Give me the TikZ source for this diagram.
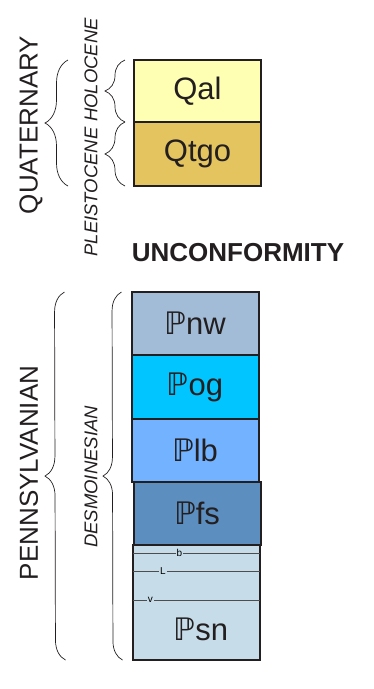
\documentclass[tikz,border=0pt]{standalone}
\usepackage{fontspec}
\setmainfont{Liberation Sans}
\newfontfamily\symfont{DejaVu Sans}
\usepackage{tikz}
\usetikzlibrary{calc,positioning,decorations.pathreplacing}
\definecolor{qalcol}{HTML}{FFFFB3}
\definecolor{qtgocol}{HTML}{E4C45E}
\definecolor{pnwcol}{HTML}{A2BCD8}
\definecolor{pogcol}{HTML}{00C5FF}
\definecolor{plbcol}{HTML}{73B2FF}
\definecolor{pfscol}{HTML}{5C8EC0}
\definecolor{psncol}{HTML}{C6DCE8}
\definecolor{inkcol}{HTML}{231F20}
\newcommand{\penn}{{\symfont ℙ}}
\tikzset{
  % Boxes for map units, and the labels beside them
  unit box/.style={rectangle,draw=inkcol,line width=2pt,outer sep=0pt,inner sep=0pt,
    minimum width=127pt,text=inkcol,font=\fontsize{31}{33}\selectfont},
  period label/.style={rotate=90,text=inkcol,font=\fontsize{26}{28}\selectfont},
  epoch label/.style={rotate=90,text=inkcol,font=\fontsize{18.5}{20}\selectfont\itshape},
  time brace/.style={draw=inkcol,line width=0.7pt,decorate,decoration={brace,amplitude=#1}},
  bed line/.style={draw=inkcol!80,line width=0.7pt}
}

\begin{document}
\begin{tikzpicture}[x=1pt,y=-1pt]
  \useasboundingbox (0,0) rectangle (373,689);
  % Quaternary units
  \node(qal)[unit box,fill=qalcol,minimum height=62pt,anchor=north west] at (134,60) {Qal};
  \node(qtgo)[unit box,fill=qtgocol,minimum height=64pt,below=0pt of qal] {Qtgo};
  \node(unconf)[font=\fontsize{26}{28}\selectfont\bfseries,text=inkcol] at (238,253) {UNCONFORMITY};
  % Pennsylvanian units
  \node(pnw)[unit box,fill=pnwcol,minimum height=63pt,anchor=north west] at (131.5,292) {\penn nw};
  \node(pog)[unit box,fill=pogcol,minimum height=64pt,below=0pt of pnw] {\penn og};
  \node(plb)[unit box,fill=plbcol,minimum height=63pt,below=0pt of pog] {\penn lb};
  \node(pfs)[unit box,fill=pfscol,minimum height=63pt,below=0pt of plb,xshift=2pt] {\penn fs};
  \node(psn)[unit box,fill=psncol,minimum height=115pt,below=0pt of pfs,xshift=-1pt] {};
  \node(psnlabel)[font=\fontsize{31}{33}\selectfont,text=inkcol] at ($(psn.south)+(5,-31)$) {\penn sn};
  % Marker beds in Psn
  \coordinate (bw) at ($(psn.north west)+(0,8)$);
  \coordinate (be) at ($(psn.north east)+(0,8)$);
  \coordinate (lw) at ($(psn.north west)+(0,26)$);
  \coordinate (le) at ($(psn.north east)+(0,26)$);
  \coordinate (vw) at ($(psn.north west)+(0,55)$);
  \coordinate (ve) at ($(psn.north east)+(0,55)$);
  \draw[bed line] (bw) -- node[pos=.37,fill=psncol,inner sep=1pt,font=\fontsize{10}{10}\selectfont]{b} (be);
  \draw[bed line] (lw) -- node[pos=.24,fill=psncol,inner sep=1pt,font=\fontsize{10}{10}\selectfont]{L} (le);
  \draw[bed line] (vw) -- node[pos=.14,fill=psncol,inner sep=1pt,font=\fontsize{10}{10}\selectfont]{v} (ve);
  % Time scale
  \node(quat)[period label] at (31,125) {QUATERNARY};
  \node(holo)[epoch label] at (91,70) {HOLOCENE};
  \node(pleis)[epoch label] at (91,192) {PLEISTOCENE};
  \node(penn)[period label] at (29,473) {PENNSYLVANIAN};
  \node(desm)[epoch label] at (91,477) {DESMOINESIAN};
  \draw[time brace=23pt] ($(qtgo.south west)+(-66,0)$) -- ($(qal.north west)+(-66,0)$);
  \draw[time brace=20pt] ($(qal.south west)+(-9,0)$) -- ($(qal.north west)+(-9,0)$);
  \draw[time brace=20pt] ($(qtgo.south west)+(-9,0)$) -- ($(qtgo.north west)+(-9,0)$);
  \draw[time brace=20pt] ($(psn.south west)+(-67,0)$) -- ($(pnw.north west)+(-67,0)$);
  \draw[time brace=19pt] ($(psn.south west)+(-10,0)$) -- ($(pnw.north west)+(-10,0)$);
\end{tikzpicture}
\end{document}
